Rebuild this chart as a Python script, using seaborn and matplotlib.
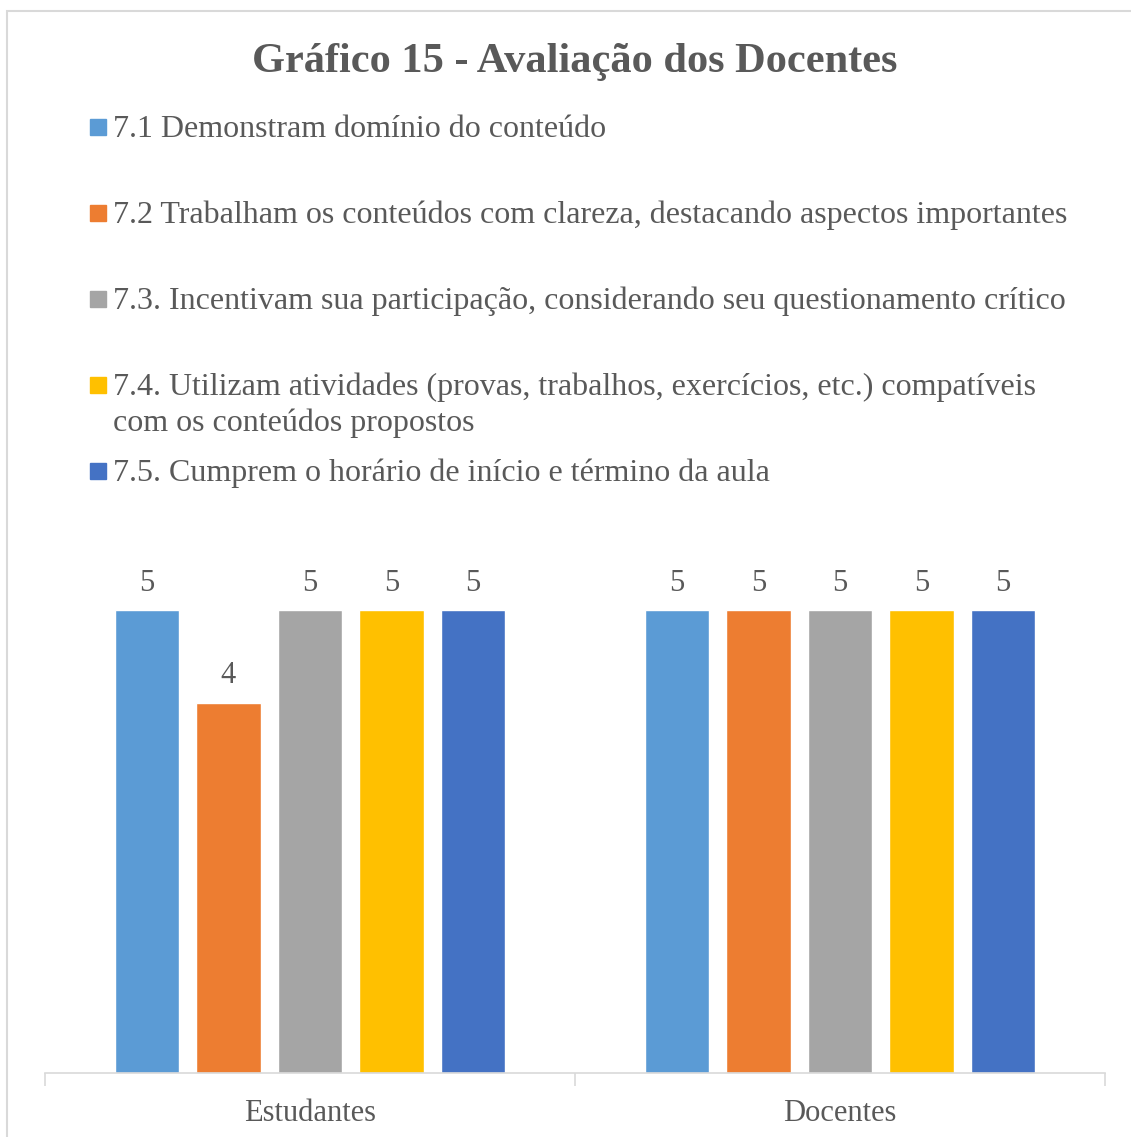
import matplotlib
matplotlib.use("Agg")
import matplotlib.pyplot as plt
import seaborn as sns
import pandas as pd
from matplotlib.patches import Rectangle

grupos = ["Estudantes", "Docentes"]
itens = [
    "7.1 Demonstram domínio do conteúdo",
    "7.2 Trabalham os conteúdos com clareza, destacando aspectos importantes",
    "7.3. Incentivam sua participação, considerando seu questionamento crítico",
    "7.4. Utilizam atividades (provas, trabalhos, exercícios, etc.) compatíveis\ncom os conteúdos propostos",
    "7.5. Cumprem o horário de início e término da aula",
]
estudantes = [5, 4, 5, 5, 5]
docentes = [5, 5, 5, 5, 5]
cores = ["#5B9BD5", "#ED7D31", "#A5A5A5", "#FFC000", "#4472C4"]

sns.set_style("white")
plt.rcParams["font.family"] = ["Liberation Serif", "DejaVu Serif"]
texto = "#595959"

rows = []
for i, item in enumerate(itens):
    rows.append({"grupo": grupos[0], "item": item, "valor": estudantes[i]})
    rows.append({"grupo": grupos[1], "item": item, "valor": docentes[i]})
df = pd.DataFrame(rows)

fig = plt.figure(figsize=(11.31, 11.37), dpi=100)
ax = fig.add_axes([45 / 1131, 64 / 1137, 1060 / 1131, 509 / 1137])

sns.barplot(data=df, x="grupo", y="valor", hue="item", hue_order=itens,
            order=grupos, palette=cores, width=0.77, gap=0.21,
            saturation=1, legend=False, ax=ax)

for c in ax.containers:
    ax.bar_label(c, padding=9, fontsize=22, color=texto)

ax.set_xlim(-0.5, 1.5)
ax.set_ylim(0, 5.5)
ax.set_xlabel("")
ax.set_ylabel("")
ax.set_yticks([])
for s in ["top", "right", "left"]:
    ax.spines[s].set_visible(False)
ax.spines["bottom"].set_color("#D9D9D9")
ax.spines["bottom"].set_linewidth(1.2)
ax.set_xticks([0, 1])
ax.set_xticklabels(grupos, fontsize=22, color=texto)
ax.tick_params(axis="x", which="major", length=0, pad=19)
ax.set_xticks([-0.5, 0.5, 1.5], minor=True)
ax.tick_params(axis="x", which="minor", bottom=True, direction="out",
               length=9, color="#D9D9D9", width=1.2)

fig.text(575 / 1131, 1 - 62 / 1137, "Gráfico 15 - Avaliação dos Docentes",
         ha="center", va="center", fontsize=30.5, fontweight="bold", color=texto)

# legenda manual
ys = [127, 213, 299, 385, 471]
for item, cor, y in zip(itens, cores, ys):
    fig.add_artist(Rectangle((90 / 1131, 1 - (y + 8) / 1137), 16 / 1131, 16 / 1137,
                             transform=fig.transFigure, color=cor))
    for k, linha in enumerate(item.split("\n")):
        fig.text(113 / 1131, 1 - (y + 10 + 36 * k) / 1137, linha, ha="left",
                 va="baseline", fontsize=23, color=texto)

# moldura
fig.add_artist(Rectangle((7 / 1131, -0.01), 1.1, 1 - 11 / 1137 + 0.01,
                         transform=fig.transFigure, fill=False,
                         edgecolor="#D9D9D9", linewidth=1.5))

fig.savefig("out.png", dpi=100)
